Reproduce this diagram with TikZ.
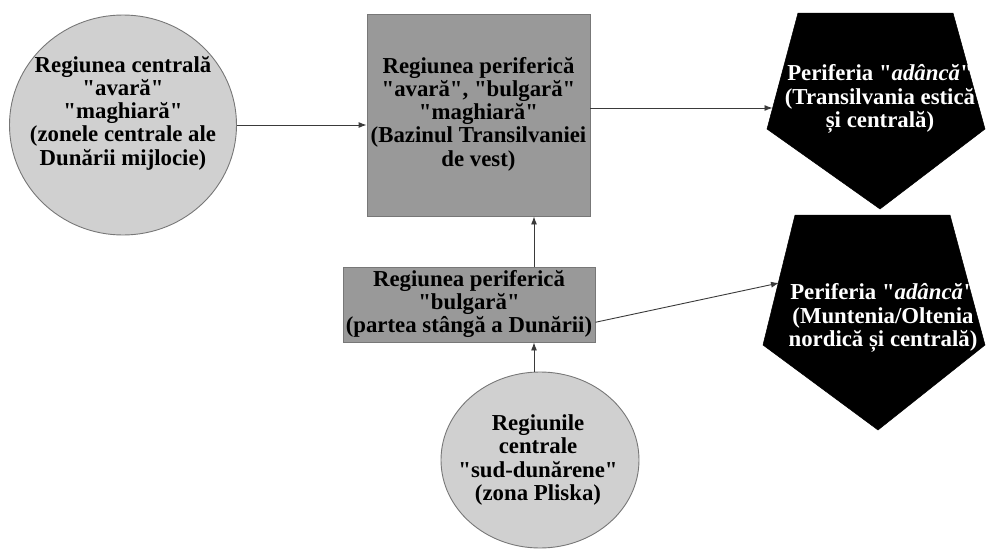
\documentclass[tikz,border=0pt]{standalone}
\usepackage{fontspec}
\setmainfont{Liberation Serif}[Ligatures=TeXOff]
\usetikzlibrary{arrows.meta,shapes.geometric}
\definecolor{lightfill}{HTML}{D0D0D0}
\definecolor{darkfill}{HTML}{999999}
\definecolor{edgegray}{HTML}{777777}
\definecolor{arrowgray}{HTML}{3A3A3A}
\begin{document}
\begin{tikzpicture}[x=1pt,y=-1pt,
  lbl/.style={font=\fontsize{22.8}{23.2}\selectfont\bfseries, align=center, inner sep=0pt, text=black},
  wlbl/.style={lbl, text=white},
  roundbox/.style={ellipse, draw=edgegray, fill=lightfill, line width=0.9pt, inner sep=0pt},
  squarebox/.style={rectangle, draw=edgegray, fill=darkfill, line width=0.9pt, inner sep=0pt},
  pentbox/.style={fill=black, draw=black, line width=0.5pt},
  arr/.style={draw=arrowgray, line width=0.9pt, -{Latex[length=8pt,width=6pt]}}
]
\useasboundingbox (0,0) rectangle (986,549);

% left circle
\node[roundbox, minimum width=227, minimum height=220] (c1) at (123,125) {};
\node[lbl] (c1t) at (123,113) {Regiunea centrală\\"avară"\\"maghiară"\\(zonele centrale ale\\Dunării mijlocie)};

% big square
\node[squarebox, minimum width=223, minimum height=202] (sq) at (478.5,115) {};
\node[lbl] (sqt) at (478.5,114) {Regiunea periferică\\"avară", "bulgară"\\"maghiară"\\(Bazinul Transilvaniei\\de vest)};

% small rectangle
\node[squarebox, minimum width=252, minimum height=75] (r2) at (469,304.5) {};
\node[lbl] (r2t) at (469,304) {Regiunea periferică\\"bulgară"\\(partea stângă a Dunării)};

% bottom ellipse
\node[roundbox, minimum width=198, minimum height=176] (e2) at (540,460) {};
\node[lbl] (e2t) at (538,460) {Regiunile\\centrale\\"sud-dunărene"\\(zona Pliska)};

% pentagon 1
\path[pentbox] (798,13) -- (953,13) -- (985,129) -- (880,209) -- (767,129) -- cycle;
\node[wlbl] (p1t) at (880,99) {Periferia "\textit{adâncă}"\\(Transilvania estică\\și centrală)};
\coordinate (p1in) at (772.5,108);

% pentagon 2
\path[pentbox] (795,215) -- (950,215) -- (985,345) -- (878,430) -- (763,345) -- cycle;
\node[wlbl] (p2t) at (883,318) {Periferia "\textit{adâncă}"\\(Muntenia/Oltenia\\nordică și centrală)};
\coordinate (p2in) at (779,283);

\coordinate (vx) at (534,0);

% connectors
\draw[arr] (c1.east) -- (c1.east -| sq.west);
\draw[arr] (sq.east |- p1in) -- (p1in);
\draw[arr] (r2.north -| vx) -- (sq.south -| vx);
\draw[arr] (e2.north -| vx) -- (r2.south -| vx);
\draw[arr] (r2.-8.4) -- (p2in);
\end{tikzpicture}
\end{document}
